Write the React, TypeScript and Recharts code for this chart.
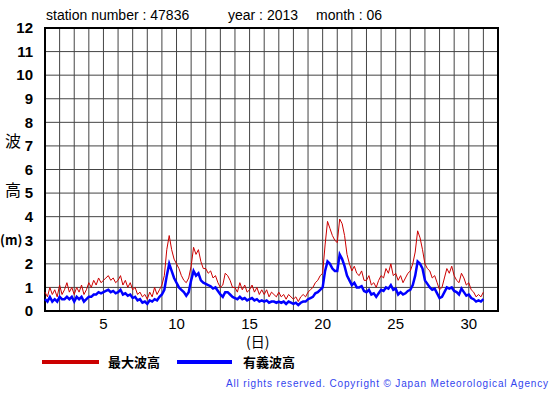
import React from 'react';
import { LineChart, Line, XAxis, YAxis, CartesianGrid, ReferenceArea } from 'recharts';

// 4-hourly values (6 per day), June 1 00h .. July 1 00h
const maxWave: number[] = [
  0.8, 0.6, 1.0, 0.7, 0.9, 0.6,
  1.1, 0.7, 0.9, 1.2, 0.8, 1.0,
  0.7, 1.0, 0.8, 1.1, 0.7, 0.9,
  1.2, 1.0, 1.3, 1.1, 1.4, 1.2,
  1.3, 1.4, 1.5, 1.3, 1.4, 1.2,
  1.3, 1.5, 1.1, 1.3, 1.0, 1.2,
  0.9, 1.0, 0.7, 0.8, 0.6, 0.7,
  0.5, 0.8, 0.6, 1.0, 0.7, 0.9,
  1.1, 1.5, 2.6, 3.2, 2.6, 2.2,
  2.0, 1.8, 1.5, 1.3, 1.2, 1.4,
  1.9, 2.7, 2.4, 2.6, 2.1, 1.8,
  1.8, 1.6, 1.7, 1.4, 1.5, 1.2,
  1.0, 1.1, 1.6, 1.5, 1.3, 1.0,
  1.0, 0.8, 1.2, 0.9, 1.1, 0.8,
  0.9, 1.1, 0.8, 1.0, 0.7, 0.9,
  0.7, 0.9, 0.6, 0.8, 0.7, 0.6,
  0.8, 0.6, 0.7, 0.5, 0.7, 0.6,
  0.5, 0.6, 0.4, 0.6, 0.7, 0.6,
  0.8, 0.9, 1.0, 1.2, 1.3, 1.5,
  1.6, 2.8, 3.8, 3.5, 3.2, 3.0,
  2.9, 3.9, 3.7, 3.2, 2.4, 2.0,
  1.7, 1.9, 1.6, 1.5, 1.7, 1.3,
  1.3, 1.5, 1.1, 1.2, 1.0, 1.3,
  1.5, 1.4, 1.8, 1.6, 2.0, 1.5,
  1.6, 1.3, 1.5, 1.2, 1.4, 1.6,
  1.7, 2.0, 2.5, 3.4, 3.1, 2.6,
  2.0, 1.8, 1.7, 1.4, 1.5, 1.2,
  0.9, 1.0, 1.4, 1.8, 1.6, 1.9,
  1.5, 1.3, 1.2, 1.6, 1.4, 1.1,
  1.2, 0.9, 0.8, 0.6, 0.7, 0.6,
  0.8,
];

const sigWave: number[] = [
  0.5, 0.4, 0.6, 0.4, 0.5, 0.4,
  0.6, 0.5, 0.5, 0.6, 0.5, 0.6,
  0.4, 0.6, 0.5, 0.6, 0.4, 0.5,
  0.6, 0.6, 0.7, 0.7, 0.8, 0.75,
  0.8, 0.85, 0.9, 0.8, 0.85, 0.75,
  0.8, 0.9, 0.7, 0.75, 0.65, 0.7,
  0.55, 0.6, 0.45, 0.5, 0.35, 0.4,
  0.3, 0.45, 0.4, 0.5, 0.45, 0.6,
  0.7, 0.9, 1.5, 2.0, 1.7, 1.4,
  1.2, 1.0, 0.9, 0.8, 0.65, 0.8,
  1.3, 1.7, 1.5, 1.6, 1.3, 1.2,
  1.15, 1.1, 1.05, 0.95, 1.0, 0.85,
  0.7, 0.6, 0.8, 0.8, 0.7, 0.6,
  0.55, 0.5, 0.6, 0.5, 0.55, 0.45,
  0.5, 0.55, 0.45, 0.5, 0.4, 0.45,
  0.4, 0.45, 0.35, 0.4, 0.4, 0.35,
  0.4, 0.35, 0.4, 0.3, 0.4, 0.35,
  0.3, 0.35, 0.25, 0.35, 0.4, 0.4,
  0.5, 0.55, 0.6, 0.75, 0.8, 0.9,
  1.0, 1.7, 2.1, 2.0, 1.8, 1.7,
  1.7, 2.4, 2.2, 1.9, 1.5, 1.3,
  1.1, 1.2, 1.0, 1.0, 1.05, 0.85,
  0.8, 0.9, 0.7, 0.75, 0.6, 0.75,
  0.9, 0.85, 1.0, 0.95, 1.1, 0.9,
  0.95, 0.7, 0.8, 0.7, 0.75, 0.85,
  0.9, 1.1, 1.5, 2.1, 2.0, 1.8,
  1.3, 1.15, 1.0, 0.9, 0.95, 0.75,
  0.55, 0.6, 0.8, 1.0, 0.95, 1.0,
  0.85, 0.8, 0.7, 0.95, 0.8, 0.65,
  0.7, 0.55, 0.5, 0.4, 0.45, 0.4,
  0.5,
];

const xTicks: number[] = [1, 2, 3, 4, 5, 6, 7, 8, 9, 10, 11, 12, 13, 14, 15, 16, 17, 18, 19, 20, 21, 22, 23, 24, 25, 26, 27, 28, 29, 30, 31, 32];
const xLabelTicks: number[] = [5, 10, 15, 20, 25, 30];
const yTicks: number[] = [0, 1, 2, 3, 4, 5, 6, 7, 8, 9, 10, 11, 12];
const stepsPerDay = 6;

const data = maxWave.map((m, i) => ({ day: 1 + i / stepsPerDay, max: m, sig: sigWave[i] }));

const FONT = '"Liberation Sans", Arial, sans-serif';
const CJK = '"Noto Sans CJK JP", sans-serif';

const abs = (left: number, top: number, extra: React.CSSProperties = {}): React.CSSProperties => ({
  position: 'absolute', left, top, whiteSpace: 'nowrap', lineHeight: 1, ...extra,
});

export default function App() {
  return (
    <div style={{ position: 'relative', width: 555, height: 395, background: '#fff', fontFamily: FONT }}>
      <style>{`body{margin:0;}`}</style>
      <LineChart width={555} height={395} data={data} margin={{ top: 28, right: 57, left: 0, bottom: 54 }}>
        <CartesianGrid stroke="#444" strokeWidth={1} horizontal vertical />
        <XAxis
          dataKey="day"
          type="number"
          domain={[1, 32]}
          ticks={xTicks}
          interval={0}
          height={30}
          tickLine={false}
          axisLine={false}
          tick={{ fill: '#000', fontSize: 15, fontFamily: FONT }}
          tickFormatter={(v: number) => (xLabelTicks.includes(v) ? String(v) : '')}
          tickMargin={1}
        />
        <YAxis
          type="number"
          domain={[0, 12]}
          ticks={yTicks}
          interval={0}
          width={45}
          tickLine={false}
          axisLine={false}
          tick={{ fill: '#000', fontSize: 15, fontWeight: 'bold', fontFamily: FONT }}
          tickMargin={6}
        />
        <ReferenceArea x1={1} x2={32} y1={0} y2={12} fill="none" stroke="#000" strokeWidth={2} ifOverflow="visible" />
        <Line dataKey="max" stroke="#cc0000" strokeWidth={1} dot={false} isAnimationActive={false} type="linear" />
        <Line dataKey="sig" stroke="#0000ff" strokeWidth={2.5} dot={false} isAnimationActive={false} type="linear" />
      </LineChart>

      <div style={abs(46, 8, { fontSize: 14 })}>station number : 47836</div>
      <div style={abs(228, 8, { fontSize: 14 })}>year : 2013</div>
      <div style={abs(316, 8, { fontSize: 14 })}>month : 06</div>

      <div style={abs(5, 132, { fontSize: 16, fontFamily: CJK })}>波</div>
      <div style={abs(5, 181, { fontSize: 16, fontFamily: CJK })}>高</div>
      <div style={abs(0, 233, { fontSize: 13, fontFamily: CJK, fontWeight: 'bold' })}>(m)</div>

      <div style={abs(246, 334, { fontSize: 14, fontFamily: CJK })}>(日)</div>

      <div style={abs(42, 360, { width: 57, height: 4, background: '#cc0000' })} />
      <div style={abs(108, 355, { fontSize: 13, fontWeight: 'bold', fontFamily: CJK })}>最大波高</div>
      <div style={abs(177, 360, { width: 55, height: 4, background: '#0000ff' })} />
      <div style={abs(243, 355, { fontSize: 13, fontWeight: 'bold', fontFamily: CJK })}>有義波高</div>

      <div style={abs(226, 379, { fontSize: 10, color: '#3344ee', letterSpacing: 0.85 })}>
        All rights reserved. Copyright © Japan Meteorological Agency
      </div>
    </div>
  );
}
